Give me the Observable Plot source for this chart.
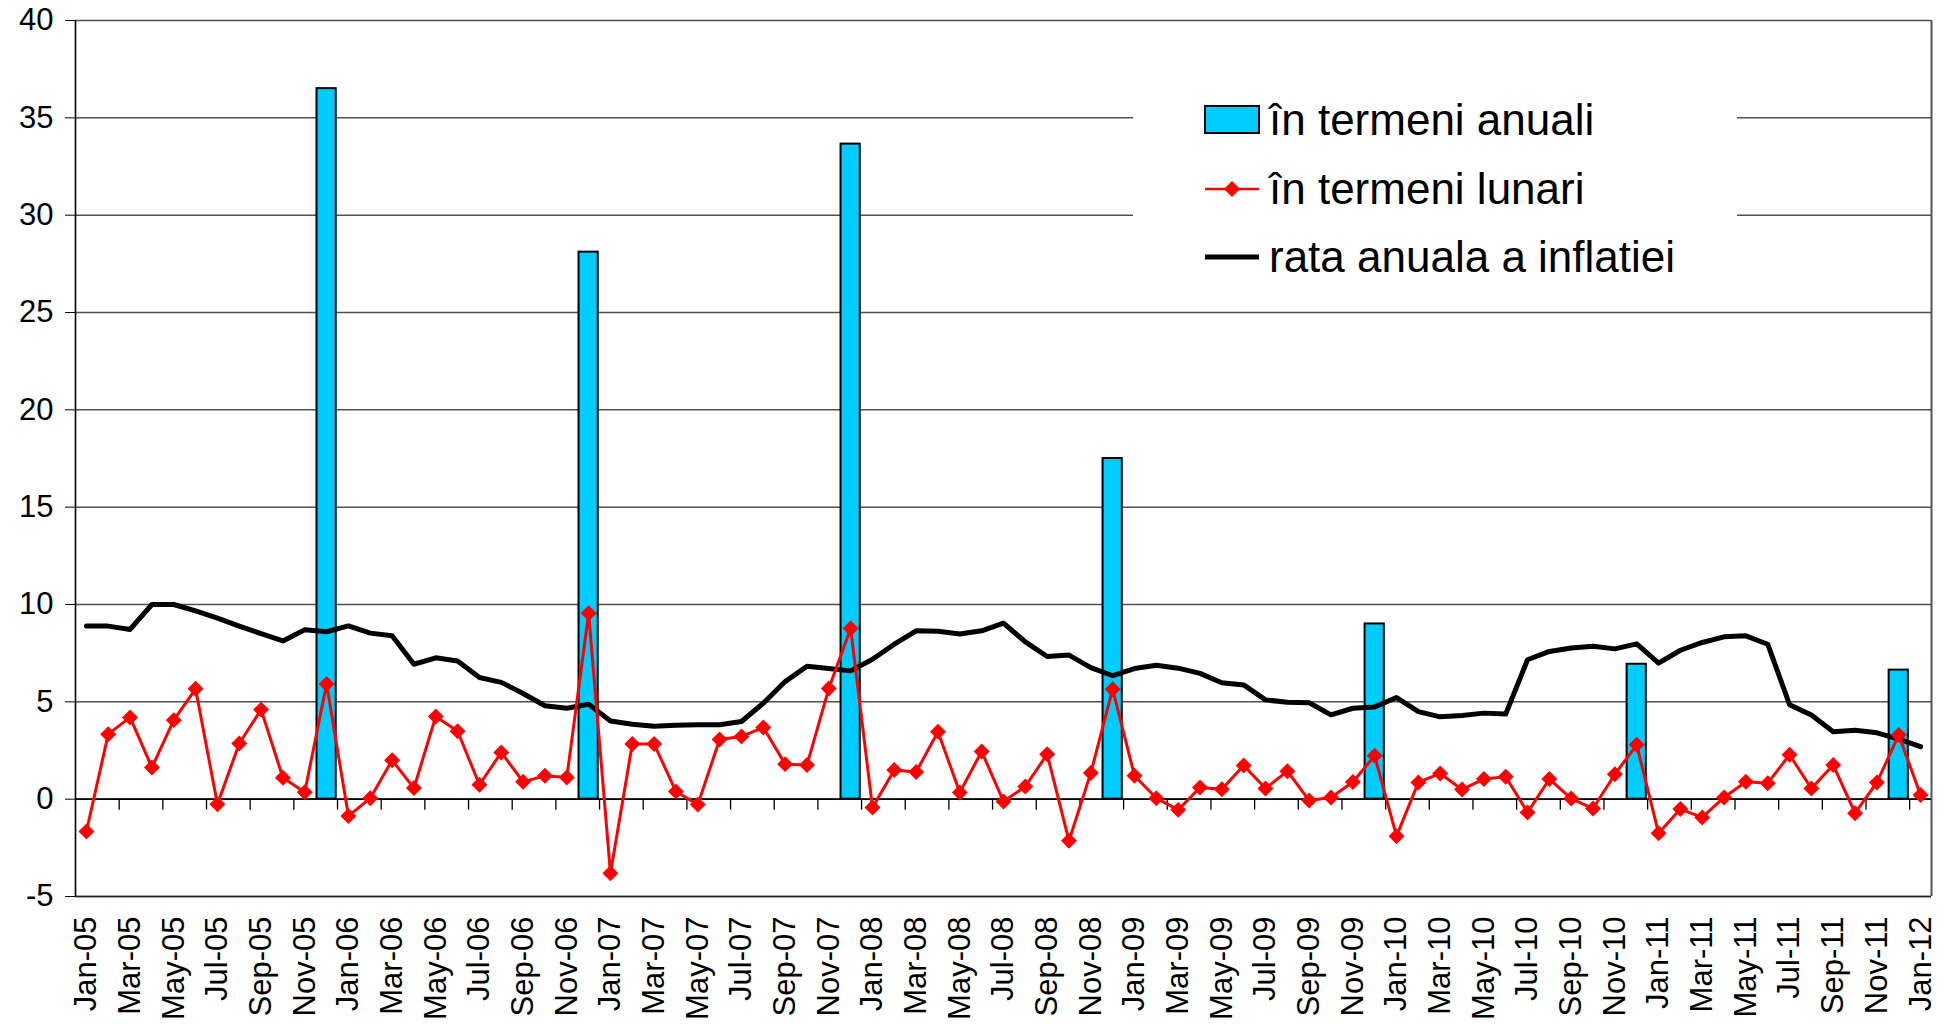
<!DOCTYPE html>
<html>
<head>
<meta charset="utf-8">
<script src="https://cdn.jsdelivr.net/npm/d3@7"></script>
<script src="https://cdn.jsdelivr.net/npm/@observablehq/plot@0.6"></script>
<style>
  html, body { margin: 0; padding: 0; background: #fff; }
  #wrap { position: relative; width: 1946px; height: 1024px; font-family: "Liberation Sans", Arial, sans-serif; }
  #legend { position: absolute; left: 1133px; top: 75px; width: 604px; height: 217px; background: #fff; }
  .item { position: absolute; left: 70px; height: 50px; display: flex; align-items: center; font-size: 44px; color: #000; white-space: nowrap; }
  .item svg { margin-right: 8px; }
</style>
</head>
<body>
<div id="wrap"></div>
<script>
const months = [
  "Jan-05","Feb-05","Mar-05","Apr-05","May-05","Jun-05","Jul-05","Aug-05","Sep-05","Oct-05","Nov-05","Dec-05",
  "Jan-06","Feb-06","Mar-06","Apr-06","May-06","Jun-06","Jul-06","Aug-06","Sep-06","Oct-06","Nov-06","Dec-06",
  "Jan-07","Feb-07","Mar-07","Apr-07","May-07","Jun-07","Jul-07","Aug-07","Sep-07","Oct-07","Nov-07","Dec-07",
  "Jan-08","Feb-08","Mar-08","Apr-08","May-08","Jun-08","Jul-08","Aug-08","Sep-08","Oct-08","Nov-08","Dec-08",
  "Jan-09","Feb-09","Mar-09","Apr-09","May-09","Jun-09","Jul-09","Aug-09","Sep-09","Oct-09","Nov-09","Dec-09",
  "Jan-10","Feb-10","Mar-10","Apr-10","May-10","Jun-10","Jul-10","Aug-10","Sep-10","Oct-10","Nov-10","Dec-10",
  "Jan-11","Feb-11","Mar-11","Apr-11","May-11","Jun-11","Jul-11","Aug-11","Sep-11","Oct-11","Nov-11","Dec-11",
  "Jan-12"
];

// în termeni lunari
const monthly = [
  -1.66, 3.34, 4.2, 1.63, 4.06, 5.67, -0.26, 2.86, 4.6, 1.1, 0.36, 5.92,
  -0.87, 0.05, 2.0, 0.57, 4.25, 3.49, 0.74, 2.4, 0.89, 1.2, 1.11, 9.55,
  -3.8, 2.83, 2.83, 0.39, -0.28, 3.07, 3.22, 3.68, 1.8, 1.76, 5.68, 8.77,
  -0.43, 1.5, 1.4, 3.46, 0.34, 2.45, -0.12, 0.65, 2.31, -2.14, 1.35, 5.65,
  1.2, 0.05, -0.55, 0.6, 0.51, 1.73, 0.55, 1.44, -0.07, 0.09, 0.88, 2.23,
  -1.9, 0.86, 1.32, 0.5, 1.03, 1.15, -0.68, 1.03, 0.03, -0.48, 1.28, 2.79,
  -1.75, -0.51, -0.94, 0.09, 0.89, 0.82, 2.28, 0.55, 1.75, -0.72, 0.86, 3.3,
  0.21
];

// rata anuala a inflatiei
const annualRate = [
  8.89, 8.89, 8.72, 10.0, 10.0, 9.67, 9.3, 8.89, 8.5, 8.13, 8.7, 8.6,
  8.9, 8.53, 8.4, 6.93, 7.26, 7.1, 6.25, 6.0, 5.43, 4.8, 4.67, 4.88,
  4.02, 3.85, 3.74, 3.8, 3.82, 3.82, 3.99, 4.93, 6.04, 6.83, 6.71, 6.59,
  7.19, 7.96, 8.65, 8.63, 8.48, 8.65, 9.04, 8.08, 7.33, 7.4, 6.76, 6.34,
  6.71, 6.88, 6.73, 6.46, 5.98, 5.87, 5.1, 4.98, 4.95, 4.33, 4.67, 4.74,
  5.22, 4.5, 4.23, 4.3, 4.42, 4.37, 7.16, 7.59, 7.77, 7.86, 7.72, 7.98,
  6.99, 7.65, 8.05, 8.34, 8.39, 7.96, 4.85, 4.32, 3.46, 3.54, 3.41, 3.08,
  2.7
];

// în termeni anuali
const barMonths = ["Dec-05","Dec-06","Dec-07","Dec-08","Dec-09","Dec-10","Dec-11"];
const barValues = [36.5, 28.1, 33.65, 17.5, 9.0, 6.93, 6.63];

const yTicks = [-5, 0, 5, 10, 15, 20, 25, 30, 35, 40];
const xLabelMonths = months.filter((m, i) => i % 2 === 0);

const rows = months.map((m, i) => ({i, month: m, monthly: monthly[i], annual: annualRate[i]}));
const bars = barMonths.map((m, k) => ({i: months.indexOf(m), v: barValues[k]}));
const labelIdx = xLabelMonths.map(m => months.indexOf(m));
const tickBoundaries = labelIdx.slice(0, -1).map(i => i + 1.5);

const chart = Plot.plot({
  width: 1946,
  height: 1024,
  marginLeft: 75,
  marginRight: 15,
  marginTop: 20,
  marginBottom: 128,
  style: {fontFamily: "'Liberation Sans', Arial, sans-serif", fontSize: "31px", color: "#000", background: "#fff"},
  x: {type: "linear", domain: [-0.5, 84.5]},
  y: {domain: [-5, 40]},
  marks: [
    Plot.gridY(yTicks, {stroke: "#505050", strokeOpacity: 1, strokeWidth: 1.5}),
    Plot.ruleX([84.5], {stroke: "#555", strokeWidth: 2}),
    Plot.ruleY([-5], {stroke: "#222", strokeWidth: 1.6}),
    Plot.rect(bars, {x1: d => d.i - 0.44, x2: d => d.i + 0.44, y1: 0, y2: "v", fill: "#00CCFF", stroke: "#000", strokeWidth: 2}),
    Plot.ruleY([0], {stroke: "#000", strokeWidth: 1.6}),
    Plot.ruleX([-0.5], {stroke: "#000", strokeWidth: 1.6}),
    Plot.ruleX(tickBoundaries, {y1: 0, y2: 0, insetBottom: -11, stroke: "#000", strokeWidth: 1.3}),
    Plot.line(rows, {x: "i", y: "annual", stroke: "#000", strokeWidth: 5, strokeLinejoin: "round"}),
    Plot.line(rows, {x: "i", y: "monthly", stroke: "#ff0000", strokeWidth: 3}),
    Plot.dot(rows, {x: "i", y: "monthly", symbol: "diamond2", r: 7.2, fill: "#ff0000", stroke: "none"}),
    Plot.axisY({ticks: yTicks, tickSize: 10, tickPadding: 12, fontSize: 31, label: null, tickFormat: d => String(d)}),
    Plot.axisX({ticks: labelIdx, tickFormat: i => months[i], tickRotate: -90, tickSize: 0, tickPadding: 20, fontSize: 31, label: null})
  ]
});

const wrap = document.getElementById("wrap");
wrap.appendChild(chart);

const legend = document.createElement("div");
legend.id = "legend";
legend.innerHTML = `
  <div class="item" style="top:20px">
    <svg width="58" height="32"><rect x="2" y="2" width="54" height="27" fill="#00CCFF" stroke="#000" stroke-width="2"/></svg>
    <span>în termeni anuali</span>
  </div>
  <div class="item" style="top:89px">
    <svg width="58" height="32"><line x1="2" y1="16" x2="56" y2="16" stroke="#ff0000" stroke-width="2.5"/><path d="M29,8 L37,16 L29,24 L21,16 Z" fill="#ff0000"/></svg>
    <span>în termeni lunari</span>
  </div>
  <div class="item" style="top:157px">
    <svg width="58" height="32"><line x1="2" y1="16" x2="56" y2="16" stroke="#000" stroke-width="5"/></svg>
    <span>rata anuala a inflatiei</span>
  </div>`;
wrap.appendChild(legend);
</script>
</body>
</html>
